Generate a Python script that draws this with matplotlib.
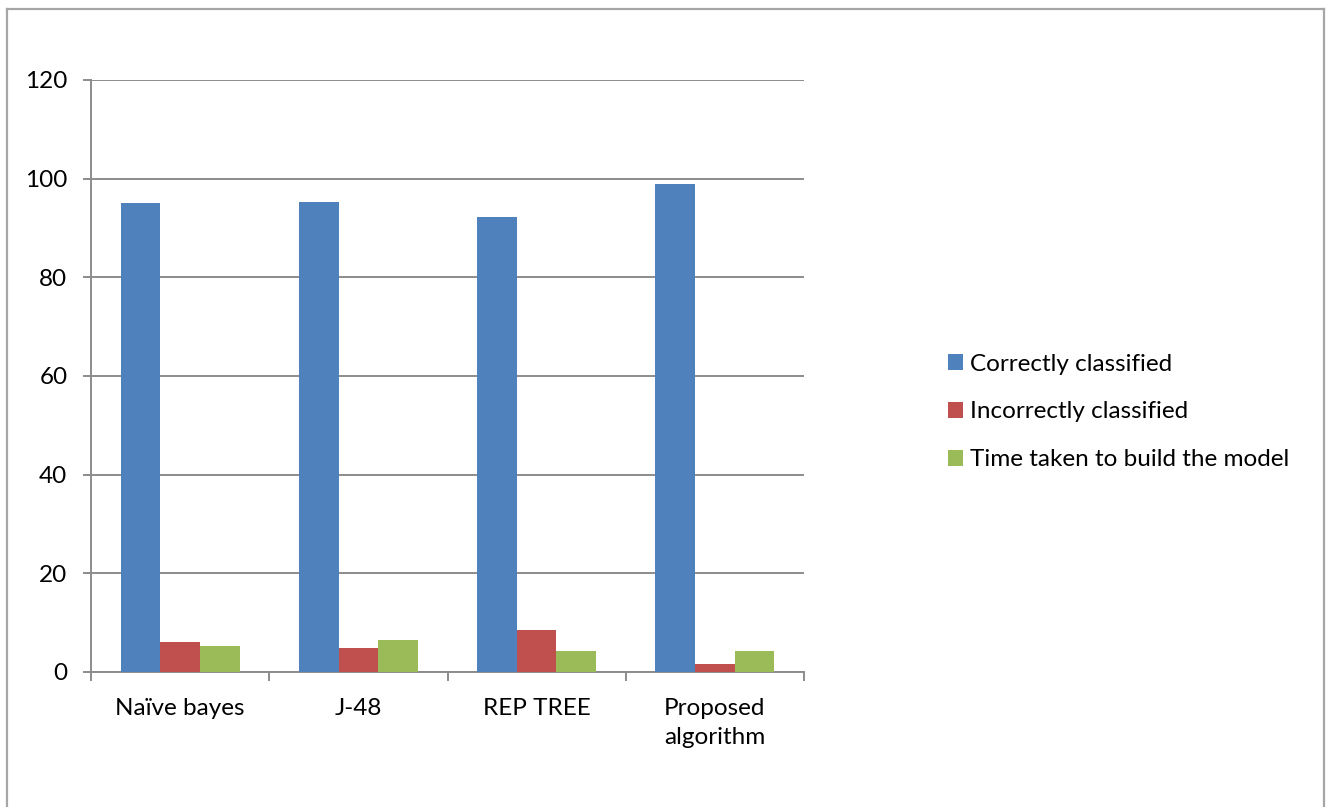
import matplotlib

matplotlib.use("Agg")

import matplotlib.pyplot as plt
import numpy as np
from matplotlib.lines import Line2D

# Classifier comparison values
CATEGORIES = ["Naïve bayes", "J-48", "REP TREE", "Proposed\nalgorithm"]
CORRECTLY = [95.0, 95.2, 92.2, 99.0]
INCORRECTLY = [6.0, 4.8, 8.6, 1.7]
TIME_TAKEN = [5.3, 6.4, 4.3, 4.3]
SERIES_LABELS = [
    "Correctly classified",
    "Incorrectly classified",
    "Time taken to build the model",
]
SERIES_COLORS = ["#4F81BD", "#C0504D", "#9BBB59"]
Y_TICKS = [0, 20, 40, 60, 80, 100, 120]

GRID_COLOR = "#8C8C8C"
FONT_SIZE = 17.5

plt.rcParams["font.family"] = ["Lato", "DejaVu Sans"]

W, H = 1328, 807
fig = plt.figure(figsize=(W / 100, H / 100), dpi=100)
ax = fig.add_axes([91 / W, 1 - 672 / H, (804 - 91) / W, (672 - 80) / H])

x = np.arange(len(CATEGORIES))
bar_w = 1 / 4.5
for i, (vals, label, color) in enumerate(
    zip([CORRECTLY, INCORRECTLY, TIME_TAKEN], SERIES_LABELS, SERIES_COLORS)
):
    ax.bar(x + (i - 1) * bar_w, vals, width=bar_w, color=color, label=label,
           zorder=3, linewidth=0)

ax.set_xlim(-0.5, len(CATEGORIES) - 0.5)
ax.set_ylim(0, 120)
ax.set_yticks(Y_TICKS)
ax.yaxis.grid(True, color=GRID_COLOR, linewidth=1.4, zorder=0)
ax.set_axisbelow(True)

for side in ["top", "right"]:
    ax.spines[side].set_visible(False)
for side in ["left", "bottom"]:
    ax.spines[side].set_color(GRID_COLOR)
    ax.spines[side].set_linewidth(1.4)

# category labels centred, tick marks on the category boundaries
ax.set_xticks(np.arange(len(CATEGORIES) + 1) - 0.5)
ax.set_xticklabels([])
ax.set_xticks(x, minor=True)
ax.set_xticklabels(CATEGORIES, minor=True, fontsize=FONT_SIZE, linespacing=1.42)
ax.tick_params(axis="x", which="minor", length=0, pad=19)
ax.tick_params(axis="x", which="major", length=6.5, width=1.4, color=GRID_COLOR,
               direction="out")
ax.tick_params(axis="y", length=6, width=1.4, color=GRID_COLOR,
               labelsize=FONT_SIZE, pad=11)

ax.legend(
    loc="center left",
    bbox_to_anchor=(948 / W, 1 - 412 / H),
    bbox_transform=fig.transFigure,
    frameon=False,
    fontsize=FONT_SIZE,
    borderpad=0,
    borderaxespad=0,
    handlelength=0.62,
    handleheight=0.62,
    handletextpad=0.3,
    labelspacing=1.1,
)

# chart frame: left, top and right edges
frame = dict(color="#A6A6A6", linewidth=1.6, transform=fig.transFigure)
fig.add_artist(Line2D([6.5 / W, 6.5 / W], [0, 1 - 8.5 / H], **frame))
fig.add_artist(Line2D([6.5 / W, 1323.5 / W], [1 - 8.5 / H, 1 - 8.5 / H], **frame))
fig.add_artist(Line2D([1323.5 / W, 1323.5 / W], [0, 1 - 8.5 / H], **frame))

fig.savefig("out.png", dpi=100)
